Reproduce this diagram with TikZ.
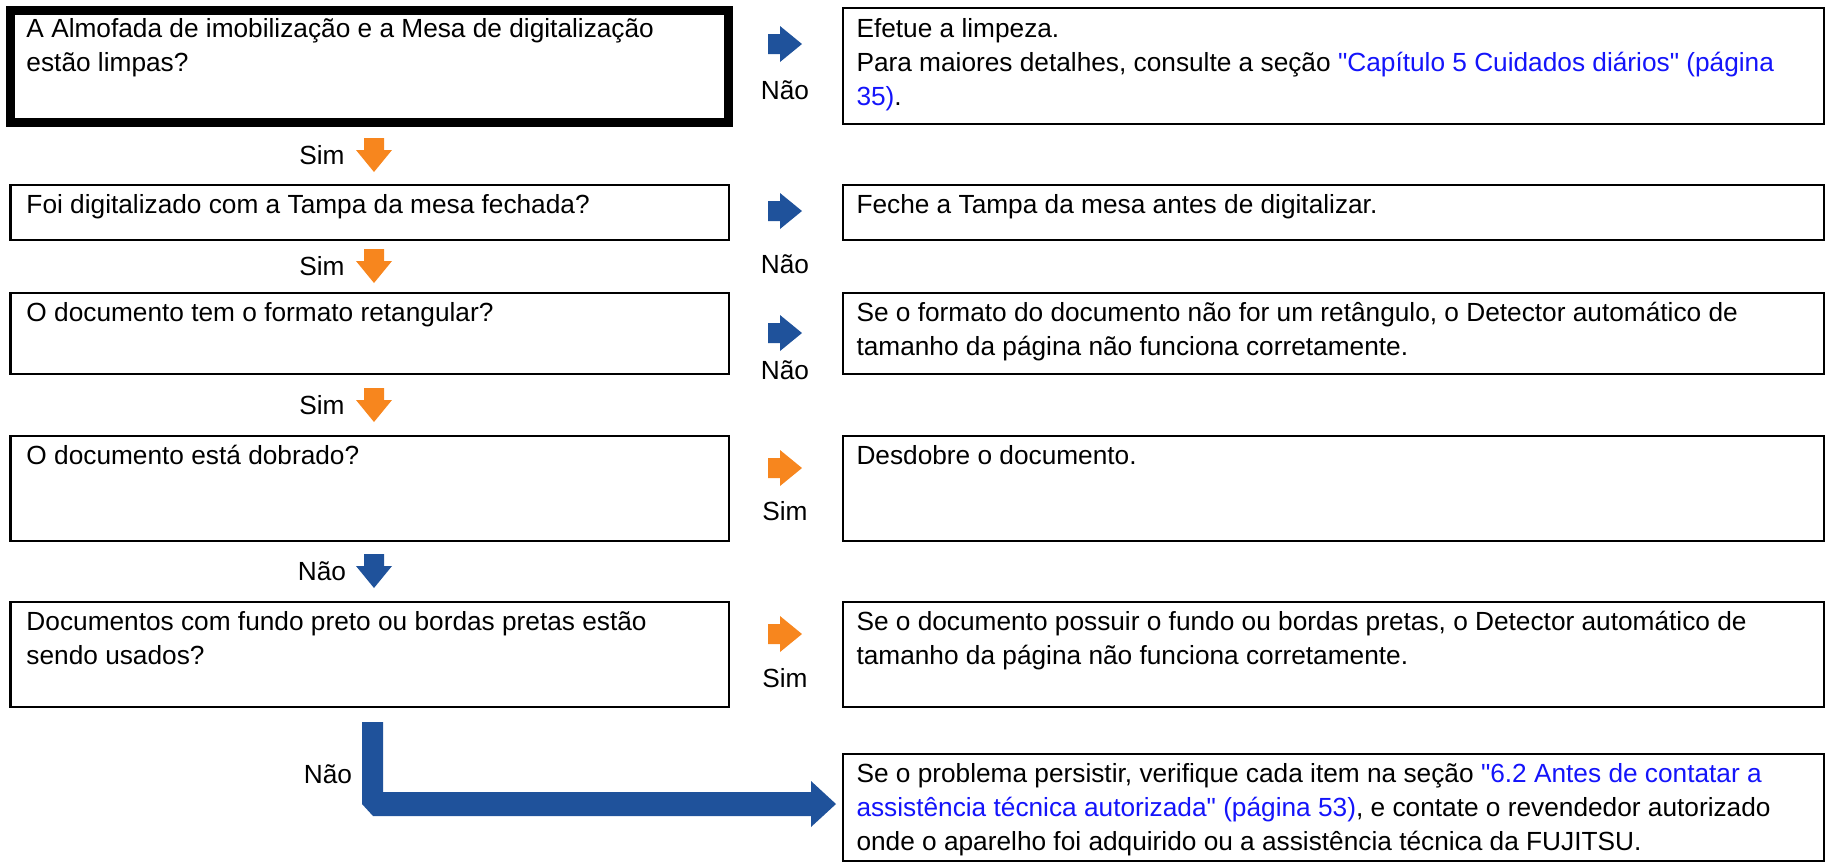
\documentclass[tikz,border=0pt]{standalone}
\usepackage{fontspec}
\newfontfamily\flowfont{Liberation Sans}
\usetikzlibrary{fit}

\definecolor{arrblue}{RGB}{31,82,155}
\definecolor{arrorange}{RGB}{247,134,30}
\definecolor{linkblue}{RGB}{20,20,250}
\newcommand{\lnk}[1]{\textcolor{linkblue}{#1}}

\begin{document}
\begin{tikzpicture}[x=0.4pt, y=-0.4pt,
    box/.style={draw, line width=1.1pt, inner sep=0pt, outer sep=0pt},
    startbox/.style={box, line width=3.6pt},
    txt/.style={anchor=north west, inner sep=0pt, align=left, font=\flowfont\fontsize{10.5}{13.6}\selectfont},
    lbl/.style={inner sep=0pt, font=\flowfont\fontsize{10.5}{13.6}\selectfont},
    rarr/.pic={\fill (-17,-10) -- (-5,-10) -- (-5,-18) -- (17,0) -- (-5,18) -- (-5,10) -- (-17,10) -- cycle;},
    darr/.pic={\fill (-10,-17) -- (-10,-5) -- (-18,-5) -- (0,17) -- (18,-5) -- (10,-5) -- (10,-17) -- cycle;}
]

    \useasboundingbox (0,0) rectangle (1827,863);

    % question boxes (left column)
    \node[startbox, fit={(10.5,10.5) (728.5,122.5)}] (q1) {};
    \node[box, fit={(10.5,185) (729,240)}] (q2) {};
    \node[box, fit={(10.5,293) (729,374)}] (q3) {};
    \node[box, fit={(10.5,436) (729,541)}] (q4) {};
    \node[box, fit={(10.5,602) (729,707)}] (q5) {};

    % answer boxes (right column)
    \node[box, fit={(843,8) (1824,124)}] (a1) {};
    \node[box, fit={(843,185) (1824,240)}] (a2) {};
    \node[box, fit={(843,293) (1824,374)}] (a3) {};
    \node[box, fit={(843,436) (1824,541)}] (a4) {};
    \node[box, fit={(843,602) (1824,707)}] (a5) {};
    \node[box, fit={(843,754) (1824,861)}] (a6) {};

    % texts
    \node[txt] (q1t) at (26,13) {\strut A Almofada de imobilização e a Mesa de digitalização\\estão limpas?};
    \node[txt] (q2t) at (26,189) {\strut Foi digitalizado com a Tampa da mesa fechada?};
    \node[txt] (q3t) at (26,297) {\strut O documento tem o formato retangular?};
    \node[txt] (q4t) at (26,440) {\strut O documento está dobrado?};
    \node[txt] (q5t) at (26,606) {\strut Documentos com fundo preto ou bordas pretas estão\\sendo usados?};

    \node[txt] (a1t) at (856,13) {\strut Efetue a limpeza.\\Para maiores detalhes, consulte a seção \lnk{"Capítulo 5 Cuidados diários" (página}\\\lnk{35)}.};
    \node[txt] (a2t) at (856,189) {\strut Feche a Tampa da mesa antes de digitalizar.};
    \node[txt] (a3t) at (856,297) {\strut Se o formato do documento não for um retângulo, o Detector automático de\\tamanho da página não funciona corretamente.};
    \node[txt] (a4t) at (856,440) {\strut Desdobre o documento.};
    \node[txt] (a5t) at (856,606) {\strut Se o documento possuir o fundo ou bordas pretas, o Detector automático de\\tamanho da página não funciona corretamente.};
    \node[txt] (a6t) at (856,758) {\strut Se o problema persistir, verifique cada item na seção \lnk{"6.2 Antes de contatar a}\\\lnk{assistência técnica autorizada" (página 53)}, e contate o revendedor autorizado\\onde o aparelho foi adquirido ou a assistência técnica da FUJITSU.};

    % side arrows with labels
    \pic[arrblue] at (785,44) {rarr};
    \node[lbl] (n1) at (785,90) {Não};
    \pic[arrblue] at (785,211) {rarr};
    \node[lbl] (n2) at (785,264) {Não};
    \pic[arrblue] at (785,333) {rarr};
    \node[lbl] (n3) at (785,370) {Não};
    \pic[arrorange] at (785,468) {rarr};
    \node[lbl] (s4) at (785,511) {Sim};
    \pic[arrorange] at (785,634) {rarr};
    \node[lbl] (s5) at (785,678) {Sim};

    % down arrows with labels
    \pic[arrorange] at (374,155) {darr};
    \node[lbl] (d1) at (322,155) {Sim};
    \pic[arrorange] at (374,266) {darr};
    \node[lbl] (d2) at (322,266) {Sim};
    \pic[arrorange] at (374,405) {darr};
    \node[lbl] (d3) at (322,405) {Sim};
    \pic[arrblue] at (374,571) {darr};
    \node[lbl] (d4) at (322,571) {Não};

    % elbow arrow to the last box
    \node[lbl] (d5) at (328,774) {Não};
    \coordinate (e1) at (362,722);
    \coordinate (e2) at (836,804);
    \fill[arrblue] (e1) -- (383,722) -- (383,792) -- (811,792) -- (811,781) -- (e2)
        -- (811,827) -- (811,816) -- (373,816) -- (362,804) -- cycle;

\end{tikzpicture}
\end{document}
